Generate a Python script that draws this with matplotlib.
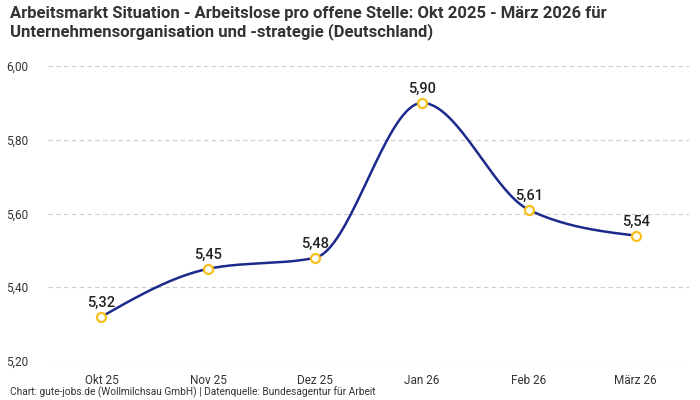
import numpy as np
import matplotlib
matplotlib.use("Agg")
import matplotlib.pyplot as plt

plt.rcParams['font.family'] = ['Roboto', 'DejaVu Sans']

months = ['Okt 25', 'Nov 25', 'Dez 25', 'Jan 26', 'Feb 26', 'März 26']
values = [5.32, 5.45, 5.48, 5.90, 5.61, 5.54]
yticks = [5.20, 5.40, 5.60, 5.80, 6.00]

LINE = '#1b2a8c'
MARK = '#f8c01c'


def monotone_x(x, y, n=40):
    # monotone cubic like d3.curveMonotoneX
    x = np.asarray(x, float)
    y = np.asarray(y, float)
    h = np.diff(x)
    s = np.diff(y) / h
    t = np.zeros_like(y)
    for i in range(1, len(y) - 1):
        if s[i - 1] * s[i] <= 0:
            t[i] = 0
        else:
            p = (s[i - 1] * h[i] + s[i] * h[i - 1]) / (h[i - 1] + h[i])
            t[i] = (np.sign(s[i - 1]) + np.sign(s[i])) * min(abs(s[i - 1]), abs(s[i]), 0.5 * abs(p))
    t[0] = (3 * s[0] - t[1]) / 2 if len(y) > 2 else s[0]
    t[-1] = (3 * s[-1] - t[-2]) / 2 if len(y) > 2 else s[-1]
    xs, ys = [], []
    for i in range(len(y) - 1):
        u = np.linspace(0, 1, n)
        h00 = 2 * u**3 - 3 * u**2 + 1
        h10 = u**3 - 2 * u**2 + u
        h01 = -2 * u**3 + 3 * u**2
        h11 = u**3 - u**2
        xs.append(x[i] + u * h[i])
        ys.append(h00 * y[i] + h10 * h[i] * t[i] + h01 * y[i + 1] + h11 * h[i] * t[i + 1])
    return np.concatenate(xs), np.concatenate(ys)


fig = plt.figure(figsize=(7, 4), dpi=100)
ax = fig.add_axes([0.0686, 0.0975, 0.916, 0.7375])

xpos = np.arange(len(months))
cx, cy = monotone_x(xpos, values)
ax.plot(cx, cy, color=LINE, lw=1.8, zorder=3)
ax.scatter(xpos, values, s=42, facecolor='white', edgecolor=MARK, linewidth=1.6, zorder=4)

for xi, v in zip(xpos, values):
    ax.annotate(f'{v:.2f}'.replace('.', ','), (xi, v), xytext=(0, 5),
                textcoords='offset points', ha='center', va='bottom',
                fontsize=10.5, color='#222222', fontweight='medium')

ax.set_xlim(-0.5, len(months) - 0.5)
ax.set_ylim(5.20, 6.00)
ax.set_yticks(yticks)
ax.set_yticklabels([f'{t:.2f}'.replace('.', ',') for t in yticks])
ax.set_xticks(xpos)
ax.set_xticklabels(months)
ax.tick_params(length=0, labelsize=8.5, labelcolor='#333333')
ax.tick_params(axis='y', pad=14)
ax.tick_params(axis='x', pad=9)
ax.grid(axis='y', color='#cccccc', linestyle=(0, (4, 3)), lw=0.8)
for sp in ax.spines.values():
    sp.set_visible(False)

fig.text(0.014, 0.985, 'Arbeitsmarkt Situation - Arbeitslose pro offene Stelle: Okt 2025 - März 2026 für\n'
         'Unternehmensorganisation und -strategie (Deutschland)',
         ha='left', va='top', fontsize=12, fontweight='bold', color='#333333', linespacing=1.15)
fig.text(0.014, 0.004, 'Chart: gute-jobs.de (Wollmilchsau GmbH) | Datenquelle: Bundesagentur für Arbeit',
         ha='left', va='bottom', fontsize=7.3, color='#333333')

fig.savefig('out.png', dpi=100)
